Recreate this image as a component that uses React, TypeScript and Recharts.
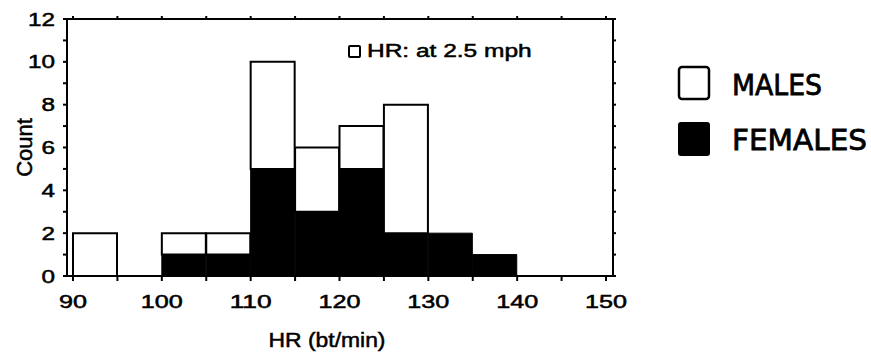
import { ComposedChart, Bar, Line, XAxis, YAxis, Label } from 'recharts';

// histogram bins (lower edge, bt/min), width 5
const binStarts = [90, 95, 100, 105, 110, 115, 120, 125, 130, 135, 140, 145];
const females = [0, 0, 1, 1, 5, 3, 5, 2, 2, 1, 0, 0];
const males = [2, 0, 1, 1, 5, 3, 2, 6, 0, 0, 0, 0];

const xTicks = [90, 95, 100, 105, 110, 115, 120, 125, 130, 135, 140, 145, 150];
const yTicks = [0, 1, 2, 3, 4, 5, 6, 7, 8, 9, 10, 11, 12];

const BIN = 5;
const data = binStarts.map((b, i) => ({ mid: b + BIN / 2, females: females[i], males: males[i] }));

const FONT = '"Liberation Sans", Arial, Helvetica, sans-serif';
const HAND = '"DejaVu Sans", sans-serif';
const PAD = { left: 6, right: 7 };

// scanned print looks a bit heavy, so give the glyphs a thin outline
const ink = { fill: '#000', stroke: '#000', strokeWidth: 0.5 };

const XTick = (props: any) => {
  const { x, y, payload } = props;
  if (payload.value % 10 !== 0) return <g />;
  const s = String(payload.value);
  return (
    <text x={x} y={y + 25} textAnchor="middle" fontSize={18} fontFamily={FONT} {...ink}
      textLength={s.length * 14} lengthAdjust="spacingAndGlyphs">
      {s}
    </text>
  );
};

const YTick = (props: any) => {
  const { x, y, payload } = props;
  if (payload.value % 2 !== 0) return <g />;
  const s = String(payload.value);
  return (
    <text x={x - 6} y={y + 6.5} textAnchor="end" fontSize={18} fontFamily={FONT} {...ink}
      textLength={s.length * 13.5} lengthAdjust="spacingAndGlyphs">
      {s}
    </text>
  );
};

const NoLabel = () => <g />;

export default function App() {
  return (
    <div style={{ position: 'absolute', left: 0, top: 0, width: 871, height: 352, background: '#fff' }}>
      <ComposedChart width={871} height={352} data={data} barCategoryGap={0} barGap={0}
        margin={{ top: 13, right: 248, bottom: 16, left: 0 }}>
        <XAxis xAxisId="hr" type="number" dataKey="mid" domain={[90, 150]} ticks={xTicks} interval={0}
          padding={PAD} height={60} tick={XTick} tickSize={5} stroke="#000" strokeWidth={2}>
          <Label content={(p: any) => {
            const vb = p.viewBox;
            return (
              <text x={vb.x + vb.width / 2 - 13} y={347} textAnchor="middle" fontSize={21}
                fontFamily={FONT} {...ink} textLength={117} lengthAdjust="spacingAndGlyphs">HR (bt/min)</text>
            );
          }} />
        </XAxis>
        <XAxis xAxisId="top" orientation="top" type="number" dataKey="mid" domain={[90, 150]}
          ticks={xTicks} interval={0} padding={PAD} height={6} tick={NoLabel} tickSize={3}
          stroke="#000" strokeWidth={2} />
        <YAxis yAxisId="left" domain={[0, 12]} ticks={yTicks} interval={0} width={67}
          tick={YTick} tickSize={4} stroke="#000" strokeWidth={2}>
          <Label content={(p: any) => {
            const vb = p.viewBox;
            const cy = vb.y + vb.height / 2;
            return (
              <text x={32} y={cy} transform={`rotate(-90 32 ${cy})`} textAnchor="middle" fontSize={22}
                fontFamily={FONT} {...ink}>Count</text>
            );
          }} />
        </YAxis>
        <YAxis yAxisId="right" orientation="right" domain={[0, 12]} ticks={yTicks} interval={0}
          width={10} tick={NoLabel} tickSize={3} stroke="#000" strokeWidth={2} />
        <Bar xAxisId="hr" yAxisId="left" dataKey="females" stackId="s" fill="#000" stroke="#000"
          strokeWidth={1} isAnimationActive={false} />
        <Bar xAxisId="hr" yAxisId="left" dataKey="males" stackId="s" fill="#fff" stroke="#000"
          strokeWidth={2} isAnimationActive={false} />
        {/* invisible series so the top / right frame axes get their ticks */}
        <Line xAxisId="top" yAxisId="right" dataKey="males" stroke="none" dot={false} activeDot={false}
          isAnimationActive={false} />
      </ComposedChart>

      <div style={{ position: 'absolute', left: 348, top: 41, display: 'flex', alignItems: 'center',
        fontFamily: FONT, fontSize: 18, color: '#000', whiteSpace: 'nowrap',
        WebkitTextStroke: '0.5px #000' }}>
        <span style={{ display: 'inline-block', width: 9, height: 9, border: '2.5px solid #000',
          borderRadius: 2, marginRight: 6 }} />
        <span style={{ display: 'inline-block', transform: 'scaleX(1.36)', transformOrigin: 'left center' }}>
          HR: at 2.5 mph
        </span>
      </div>

      <svg style={{ position: 'absolute', left: 676, top: 64 }} width={195} height={96}>
        <rect x={3} y={3} width={30} height={32} rx={3} fill="#fff" stroke="#000" strokeWidth={2.5} />
        <text x={56} y={31} fontSize={29} fontFamily={HAND} fill="#000" stroke="#000" strokeWidth={0.8}
          textLength={90} lengthAdjust="spacingAndGlyphs">MALES</text>
        <rect x={2} y={58} width={32} height={34} rx={3} fill="#000" />
        <text x={56} y={86} fontSize={29} fontFamily={HAND} fill="#000" stroke="#000" strokeWidth={0.8}
          textLength={135} lengthAdjust="spacingAndGlyphs">FEMALES</text>
      </svg>
    </div>
  );
}
